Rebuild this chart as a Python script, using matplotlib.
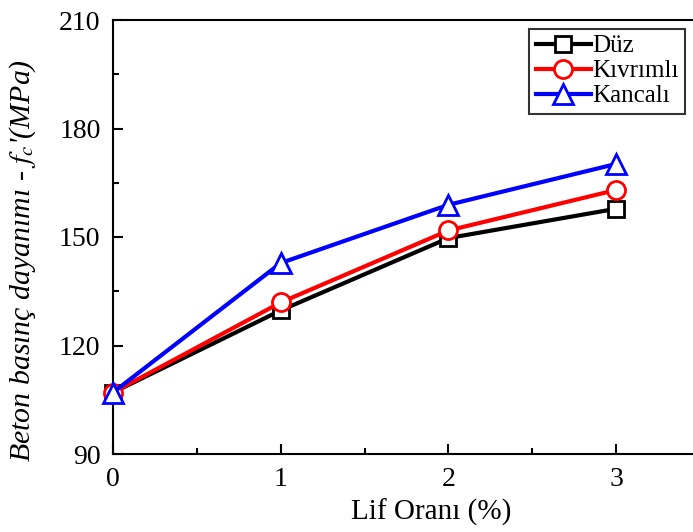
import matplotlib
matplotlib.use("Agg")
import matplotlib.pyplot as plt
from matplotlib.ticker import MultipleLocator

plt.rcParams['font.family'] = ['Liberation Serif', 'DejaVu Serif']
plt.rcParams['mathtext.fontset'] = 'stix'

# fiber ratio (%) and compressive strength (MPa) per fiber type
lif_orani = [0, 1, 2, 3]
duz = [107, 129.7, 149.7, 157.8]
kivrimli = [107, 131.9, 151.8, 163.0]
kancali = [107, 142.8, 158.9, 170.2]

fig = plt.figure(figsize=(6.93, 5.32), dpi=100)
ax = fig.add_axes([113 / 693, 78 / 532, 587 / 693, 434 / 532])

ax.plot(lif_orani, duz, color='black', lw=3, marker='s', ms=12,
        mfc='white', mec='black', mew=2, label='Düz', clip_on=False, zorder=3)
ax.plot(lif_orani, kivrimli, color='red', lw=3, marker='o', ms=13,
        mfc='white', mec='red', mew=2, label='Kıvrımlı', clip_on=False, zorder=4)
ax.plot(lif_orani, kancali, color='blue', lw=3, marker='^', ms=15,
        mfc='white', mec='blue', mew=2, label='Kancalı', clip_on=False, zorder=5)

ax.set_xlim(0, 3.5)
ax.set_ylim(90, 210)
ax.xaxis.set_major_locator(MultipleLocator(1))
ax.xaxis.set_minor_locator(MultipleLocator(0.5))
ax.yaxis.set_major_locator(MultipleLocator(30))
ax.yaxis.set_minor_locator(MultipleLocator(15))
ax.tick_params(which='both', direction='in', width=1.5, labelsize=20)
ax.tick_params(axis='x', pad=9)
ax.tick_params(axis='y', pad=9)
ax.tick_params(which='major', length=7)
ax.tick_params(which='minor', length=4)
for s in ax.spines.values():
    s.set_linewidth(1.5)

ax.set_xlabel('Lif Oranı (%)', fontsize=21)
ax.xaxis.set_label_coords(0.542, -0.104)
ax.set_ylabel("Beton basınç dayanımı - $f_c$'(MPa)", fontsize=21.5,
              style='italic')
ax.yaxis.set_label_coords(-0.128, 0.445)

leg = ax.legend(loc='upper right', bbox_to_anchor=(0.988, 0.946),
                bbox_transform=fig.transFigure, borderaxespad=0,
                fontsize=18, frameon=True, fancybox=False, edgecolor='black',
                handlelength=2.2, handletextpad=0.05, labelspacing=0.1,
                borderpad=0.25)
leg.get_frame().set_linewidth(1.5)

fig.savefig('out.png', dpi=100)
